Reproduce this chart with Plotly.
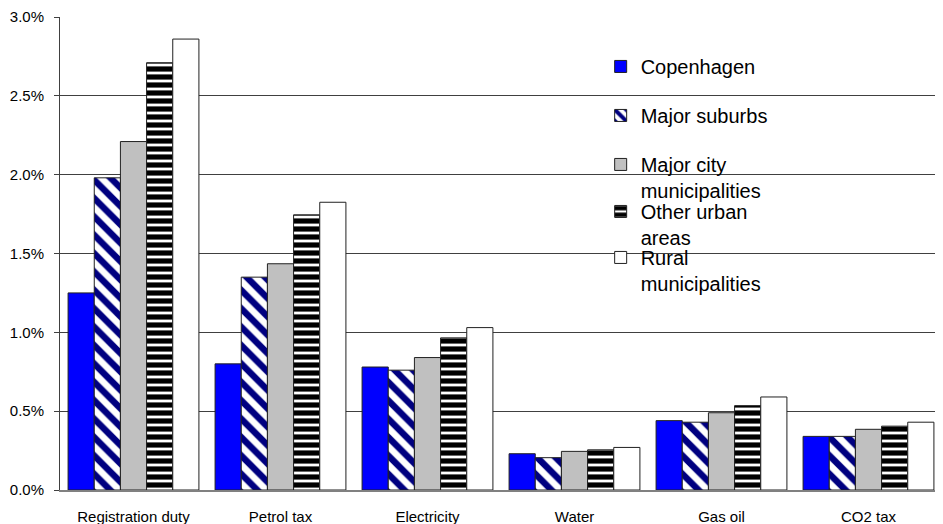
import plotly.graph_objects as go

categories = ["Registration duty", "Petrol tax", "Electricity", "Water", "Gas oil", "CO2 tax"]
series_names = ["Copenhagen", "Major suburbs", "Major city<br>municipalities",
                "Other urban<br>areas", "Rural<br>municipalities"]
copenhagen = [1.25, 0.80, 0.78, 0.23, 0.44, 0.34]
major_suburbs = [1.98, 1.35, 0.76, 0.205, 0.43, 0.34]
major_city = [2.21, 1.435, 0.84, 0.245, 0.49, 0.385]
other_urban = [2.71, 1.745, 0.965, 0.255, 0.535, 0.405]
rural = [2.86, 1.825, 1.03, 0.27, 0.59, 0.43]
tick_vals = [0.0, 0.5, 1.0, 1.5, 2.0, 2.5, 3.0]

series = [copenhagen, major_suburbs, major_city, other_urban, rural]
styles = [
    dict(color="#0000FF"),
    dict(color="white", pattern=dict(shape="\\", fgcolor="#000080", bgcolor="white",
                                     size=13, solidity=0.5, fgopacity=1)),
    dict(color="#C0C0C0"),
    dict(color="white", pattern=dict(shape="-", fgcolor="black", bgcolor="white",
                                     size=8, solidity=0.65, fgopacity=1)),
    dict(color="white"),
]
legend_ids = ["legend", "legend2", "legend3", "legend4", "legend5"]
# legend top positions in paper units (one legend per entry, like the reference's overlapping key)
legend_tops = [0.9367, 0.8331, 0.7295, 0.6301, 0.5329]

fig = go.Figure()
for name, vals, st, lg in zip(series_names, series, styles, legend_ids):
    fig.add_trace(go.Bar(
        x=categories, y=[v / 100 for v in vals], name=name, legend=lg,
        marker=dict(line=dict(color="#202020", width=1), **st),
    ))

legend_common = dict(x=0.613, xanchor="left", yanchor="top", font=dict(size=20),
                     valign="top", bgcolor="rgba(0,0,0,0)", itemclick=False,
                     itemdoubleclick=False)
layout_legends = {lg: dict(y=yt, **legend_common) for lg, yt in zip(legend_ids, legend_tops)}

fig.update_layout(
    width=935, height=516,
    margin=dict(l=52, r=1, t=9, b=34),
    paper_bgcolor="white", plot_bgcolor="white",
    barmode="group", bargap=0.11, bargroupgap=0,
    font=dict(family="Liberation Sans, Arial, sans-serif", color="black", size=15),
    showlegend=True,
    **layout_legends,
)
fig.update_yaxes(range=[0, 0.03], tickvals=[v / 100 for v in tick_vals], tickformat=".1%",
                 showgrid=True, gridcolor="#404040", gridwidth=1,
                 showline=True, linecolor="#404040", linewidth=1,
                 ticks="outside", ticklen=5, tickcolor="#404040",
                 tickfont=dict(size=15), zeroline=False, automargin=False,
                 ticklabelstandoff=7)
fig.update_xaxes(showline=True, linecolor="#808080", linewidth=2,
                 ticks="", tickfont=dict(size=15), ticklabelstandoff=12,
                 automargin=False)

fig.write_html("out.html")
